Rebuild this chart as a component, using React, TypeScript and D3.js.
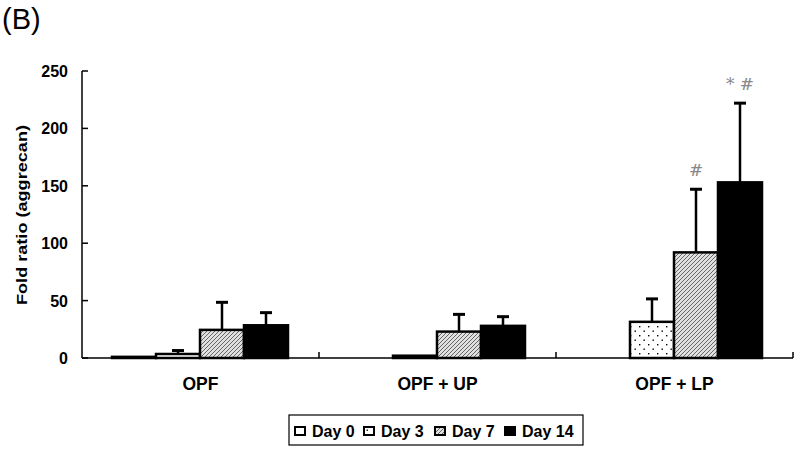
import React from 'react';
import * as d3 from 'd3';

const groups = ['OPF', 'OPF + UP', 'OPF + LP'];
const days = ['Day 0', 'Day 3', 'Day 7', 'Day 14'];
// null = no bar drawn
const means: (number | null)[][] = [
  [1, 3.5, 24.5, 28.5],
  [null, 2, 23, 28],
  [null, 31.5, 92, 153],
];
const errors: (number | null)[][] = [
  [null, 3, 24, 11],
  [null, null, 15, 8],
  [null, 20, 55, 69],
];
const marks: string[][] = [
  ['', '', '', ''],
  ['', '', '', ''],
  ['', '', '#', '* #'],
];
const yTicks = [0, 50, 100, 150, 200, 250];

const fills = ['#ffffff', 'url(#dots)', 'url(#hatch)', '#000000'];
const font = 'Arial, "Liberation Sans", sans-serif';

const App = () => {
  const x0 = d3.scaleBand().domain(groups).range([82, 793]);
  const x1 = d3.scaleBand().domain(days).range([30, 206]);
  const y = d3.scaleLinear().domain([0, 250]).range([358, 71]);

  return (
    <svg width={800} height={452} style={{ position: 'absolute', left: 0, top: 0, background: '#fff' }}>
      <defs>
        <pattern id="dots" width={9} height={9} patternUnits="userSpaceOnUse">
          <rect width={9} height={9} fill="#fff" />
          <rect x={2} y={2} width={1.4} height={1.4} fill="#000" />
          <rect x={6.5} y={6.5} width={1.4} height={1.4} fill="#000" />
        </pattern>
        <pattern id="hatch" width={4} height={4} patternUnits="userSpaceOnUse">
          <rect width={4} height={4} fill="#e0e0e0" />
          <path d="M0,4 L4,0 M-1,1 L1,-1 M3,5 L5,3" stroke="#666" strokeWidth={1} />
        </pattern>
      </defs>

      <text x={2} y={29} fontFamily={font} fontSize={29}>(B)</text>

      {/* y axis */}
      <line x1={82} x2={82} y1={y(250)} y2={y(0)} stroke="#000" strokeWidth={1.5} />
      {yTicks.map(t => (
        <g key={t}>
          <line x1={82} x2={88} y1={y(t)} y2={y(t)} stroke="#000" strokeWidth={1.5} />
          <text x={68} y={y(t) + 6} textAnchor="end" fontFamily={font} fontWeight="bold" fontSize={16}>{t}</text>
        </g>
      ))}
      <text transform={`translate(27,215) rotate(-90)`} textAnchor="middle"
        fontFamily={font} fontWeight="bold" fontSize={15} textLength={180} lengthAdjust="spacingAndGlyphs">Fold ratio (aggrecan)</text>

      {/* bars */}
      {groups.map((g, gi) => (
        <g key={g} transform={`translate(${x0(g)},0)`}>
          {days.map((d, di) => {
            const v = means[gi][di];
            if (v === null) return null;
            const bx = x1(d)!;
            const bw = x1.bandwidth();
            const e = errors[gi][di];
            const cx = bx + bw / 2;
            return (
              <g key={d}>
                {e !== null && (
                  <g>
                    <line x1={cx} x2={cx} y1={y(v)} y2={y(v + e)} stroke="#000" strokeWidth={2.5} />
                    <line x1={cx - 6} x2={cx + 6} y1={y(v + e)} y2={y(v + e)} stroke="#000" strokeWidth={3} />
                  </g>
                )}
                <rect x={bx} y={y(v)} width={bw} height={y(0) - y(v)} fill={fills[di]} stroke="#000" strokeWidth={2.5} />
                {marks[gi][di] && (
                  <text x={cx} y={y(v + (e || 0)) - 13} textAnchor="middle" fontFamily="'DejaVu Serif', serif"
                    fontSize={17} fill="#888">{marks[gi][di]}</text>
                )}
              </g>
            );
          })}
          <text x={x0.bandwidth() / 2} y={390} textAnchor="middle" fontFamily={font} fontWeight="bold" fontSize={17.5}>{g}</text>
        </g>
      ))}

      {/* x axis */}
      <line x1={82} x2={793} y1={y(0)} y2={y(0)} stroke="#000" strokeWidth={1.5} />
      {groups.map(g => (
        <line key={g} x1={x0(g)! + x0.bandwidth()} x2={x0(g)! + x0.bandwidth()} y1={y(0)} y2={y(0) - 6} stroke="#000" strokeWidth={1.5} />
      ))}

      {/* legend */}
      <rect x={289} y={415} width={294} height={30} fill="#fff" stroke="#000" strokeWidth={1.2} />
      {days.map((d, i) => {
        const lx = [295, 364, 435, 505][i];
        return (
          <g key={d}>
            <rect x={lx} y={427} width={10} height={8} fill={fills[i]} stroke="#000" strokeWidth={2} />
            <text x={lx + 17} y={437} fontFamily={font} fontWeight="bold" fontSize={16}>{d}</text>
          </g>
        );
      })}
    </svg>
  );
};

export default App;
